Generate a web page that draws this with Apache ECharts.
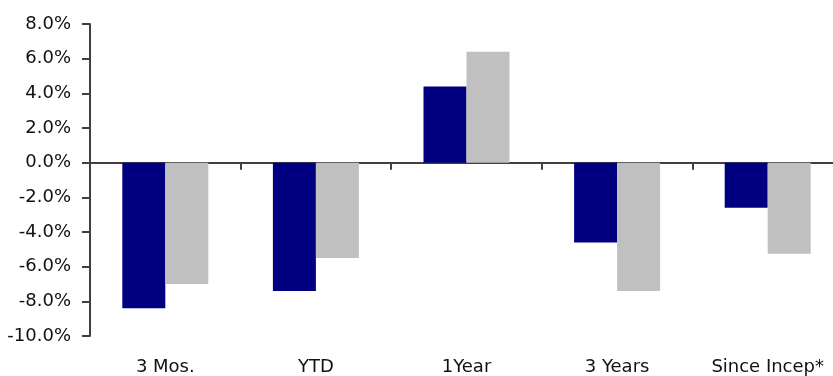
<!DOCTYPE html>
<html>
<head>
<meta charset="utf-8">
<script src="https://cdn.jsdelivr.net/npm/echarts@6/dist/echarts.min.js"></script>
<style>
  html, body { margin: 0; padding: 0; background: #fff; }
  #chart { width: 833px; height: 376px; }
</style>
</head>
<body>
<div id="chart"></div>
<script>
// Returns by period (%)
const categories = ['3 Mos.', 'YTD', '1Year', '3 Years', 'Since Incep*'];
const fundReturns = [-8.4, -7.4, 4.4, -4.6, -2.6];
const benchmarkReturns = [-7.0, -5.5, 6.4, -7.4, -5.25];

const axisColor = '#404040';
const textStyle = { color: '#111', fontSize: 18, fontFamily: 'DejaVu Sans, sans-serif' };

const chart = echarts.init(document.getElementById('chart'));

chart.setOption({
  backgroundColor: '#ffffff',
  animation: false,
  // plot runs a little past the right edge of the picture
  grid: { left: 90, width: 753, top: 24, bottom: 40, outerBoundsMode: 'none', containLabel: false },
  xAxis: [
    {
      // zero line with category ticks
      type: 'category',
      data: categories,
      boundaryGap: true,
      axisLine: { onZero: true, lineStyle: { color: axisColor, width: 2 } },
      axisTick: { show: true, inside: false, length: 7, lineStyle: { color: axisColor, width: 2 } },
      axisLabel: { show: false },
      splitLine: { show: false },
    },
    {
      // labels along the bottom
      type: 'category',
      data: categories,
      position: 'bottom',
      boundaryGap: true,
      axisLine: { show: false, onZero: false },
      axisTick: { show: false },
      axisLabel: { ...textStyle, margin: 22 },
      splitLine: { show: false },
    },
  ],
  yAxis: {
    type: 'value',
    min: -10,
    max: 8,
    interval: 2,
    axisLine: { show: true, lineStyle: { color: axisColor, width: 2 } },
    axisTick: { show: true, length: 8, lineStyle: { color: axisColor, width: 2 } },
    axisLabel: { ...textStyle, margin: 19, formatter: v => v.toFixed(1) + '%' },
    splitLine: { show: false },
  },
  series: [
    {
      name: 'Fund',
      type: 'bar',
      xAxisIndex: 0,
      data: fundReturns,
      barWidth: 43,
      barGap: '0%',
      itemStyle: { color: '#000080' },
      z: 1,
    },
    {
      name: 'Benchmark',
      type: 'bar',
      xAxisIndex: 0,
      data: benchmarkReturns,
      barWidth: 43,
      barGap: '0%',
      itemStyle: { color: '#c0c0c0' },
      z: 1,
    },
  ],
});
</script>
</body>
</html>
